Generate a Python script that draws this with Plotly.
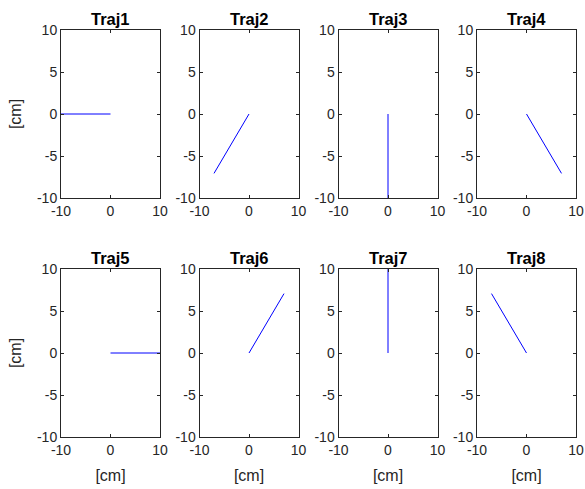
import plotly.graph_objects as go

titles = ["Traj1", "Traj2", "Traj3", "Traj4", "Traj5", "Traj6", "Traj7", "Traj8"]
# trajectory start (origin) and end points in cm
x_start = [0, 0, 0, 0, 0, 0, 0, 0]
y_start = [0, 0, 0, 0, 0, 0, 0, 0]
x_end = [-10, -7.07, 0, 7.07, 10, 7.07, 0, -7.07]
y_end = [0, -7.07, -10, -7.07, 0, 7.07, 10, 7.07]
x_tick_vals = [-10, 0, 10]
x_tick_text = ["-10", "0", "10"]
y_tick_vals = [-10, -5, 0, 5, 10]
y_tick_text = ["-10", "-5", "0", "5", "10"]

W, H = 585, 489
col_left = [61, 199.5, 338.5, 477]
ax_w = 99
row_top = [30, 269]
ax_h = 168

fig = go.Figure()
axis_color = "#262626"
font_family = "Liberation Sans, Arial, sans-serif"

for i in range(8):
    r, c = divmod(i, 4)
    n = i + 1
    xa = "xaxis" if n == 1 else f"xaxis{n}"
    ya = "yaxis" if n == 1 else f"yaxis{n}"
    xref = "x" if n == 1 else f"x{n}"
    yref = "y" if n == 1 else f"y{n}"
    fig.add_trace(go.Scatter(
        x=[x_start[i], x_end[i]], y=[y_start[i], y_end[i]],
        mode="lines", line=dict(color="#0000FF", width=1),
        xaxis=xref, yaxis=yref, showlegend=False, hoverinfo="skip"))
    x0 = col_left[c] / W
    x1 = (col_left[c] + ax_w) / W
    y1 = 1 - row_top[r] / H
    y0 = 1 - (row_top[r] + ax_h) / H
    common = dict(range=[-10, 10],
                  ticks="inside", ticklen=3, tickcolor=axis_color, tickwidth=1,
                  showline=True, linecolor=axis_color, linewidth=1, mirror="allticks",
                  showgrid=False, zeroline=False, fixedrange=True, automargin=False,
                  tickfont=dict(family=font_family, size=14, color=axis_color))
    fig.update_layout({
        xa: dict(domain=[x0, x1], anchor=yref, tickvals=x_tick_vals, ticktext=x_tick_text, **common),
        ya: dict(domain=[y0, y1], anchor=xref, tickvals=y_tick_vals, ticktext=y_tick_text, **common),
    })
    if r == 1:
        fig.layout[xa].title = dict(text="[cm]", standoff=13,
                                    font=dict(family=font_family, size=16, color=axis_color))
    if c == 0:
        fig.layout[ya].title = dict(text="[cm]", standoff=11,
                                    font=dict(family=font_family, size=16, color=axis_color))
    fig.add_annotation(text="<b>" + titles[i] + "</b>", x=(x0 + x1) / 2, y=y1,
                       xref="paper", yref="paper", xanchor="center", yanchor="bottom",
                       yshift=0, showarrow=False,
                       font=dict(family=font_family, size=16.5, color="#000000"))

fig.update_layout(width=W, height=H, margin=dict(l=0, r=0, t=0, b=0),
                  paper_bgcolor="white", plot_bgcolor="white")
fig.write_html("out.html", config={"displayModeBar": False},
               post_script="document.body.style.margin='0';document.body.style.overflow='hidden';")
